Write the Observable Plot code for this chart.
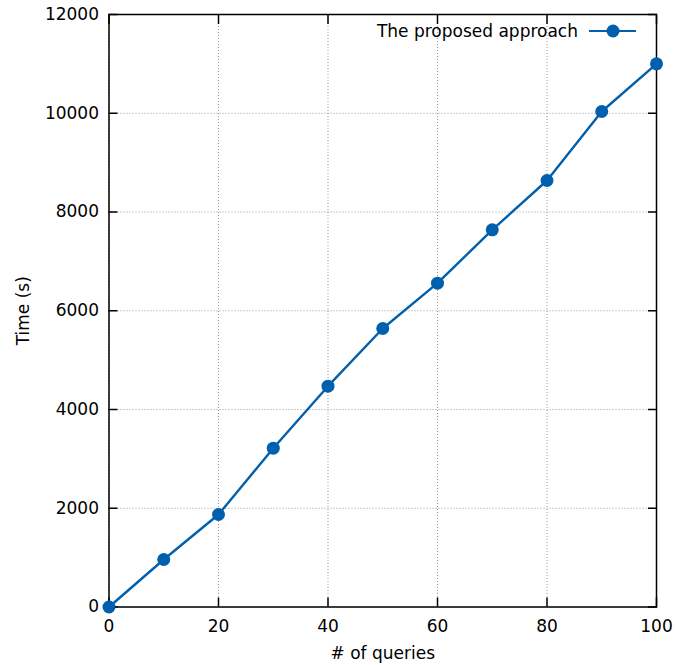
<!DOCTYPE html>
<html>
<head>
<meta charset="utf-8">
<script src="https://cdn.jsdelivr.net/npm/d3@7"></script>
<script src="https://cdn.jsdelivr.net/npm/@observablehq/plot@0.6"></script>
<style>
  body { margin: 0; background: #fff; }
  #chart { position: relative; width: 676px; height: 665px; }
</style>
</head>
<body>
<div id="chart"></div>
<script>
const queries = [0, 10, 20, 30, 40, 50, 60, 70, 80, 90, 100];
const times = [0, 962, 1873, 3216, 4472, 5641, 6558, 7639, 8638, 10035, 11001];
const xTicks = [0, 20, 40, 60, 80, 100];
const yTicks = [0, 2000, 4000, 6000, 8000, 10000, 12000];
const seriesName = "The proposed approach";
const xLabel = "# of queries";
const yLabel = "Time (s)";

const data = queries.map((q, i) => ({q, t: times[i]}));
const color = "#0060ad";
const font = "'DejaVu Sans', sans-serif";
const fs = 17;

const legend = (index, scales, values, dims) => {
  const right = dims.width - dims.marginRight;
  const top = dims.marginTop;
  const g = d3.create("svg:g");
  g.append("text")
    .attr("x", right - 78).attr("y", top + 17)
    .attr("text-anchor", "end").attr("dy", "0.35em")
    .attr("fill", "#000").attr("font-size", fs).attr("font-family", font)
    .text(seriesName);
  g.append("line")
    .attr("x1", right - 67).attr("x2", right - 20)
    .attr("y1", top + 17).attr("y2", top + 17)
    .attr("stroke", color).attr("stroke-width", 2.2);
  g.append("circle")
    .attr("cx", right - 43).attr("cy", top + 17).attr("r", 6.5)
    .attr("fill", color);
  return g.node();
};

const chart = Plot.plot({
  width: 676,
  height: 665,
  marginLeft: 108.5,
  marginRight: 20,
  marginTop: 14,
  marginBottom: 58.5,
  style: {fontFamily: font, fontSize: fs + "px", color: "#000", background: "#fff"},
  x: {domain: [0, 100]},
  y: {domain: [0, 12000]},
  marks: [
    Plot.gridX(xTicks, {stroke: "#999", strokeOpacity: 1, strokeDasharray: "1,2"}),
    Plot.gridY(yTicks, {stroke: "#999", strokeOpacity: 1, strokeDasharray: "1,2"}),
    Plot.axisX(xTicks, {anchor: "bottom", tickSize: 0, tickPadding: 13, fontSize: fs, tickFormat: d3.format("d"),
      label: xLabel, labelAnchor: "center", labelArrow: "none", labelOffset: 52}),
    Plot.axisY(yTicks, {anchor: "left", tickSize: 0, tickPadding: 10, fontSize: fs, tickFormat: d3.format("d"),
      label: yLabel, labelAnchor: "center", labelArrow: "none", labelOffset: 92}),
    Plot.axisX(xTicks, {anchor: "bottom", tickSize: -9, tickFormat: () => "", label: null, strokeWidth: 1.5}),
    Plot.axisX(xTicks, {anchor: "top", tickSize: -9, tickFormat: () => "", label: null, strokeWidth: 1.5}),
    Plot.axisY(yTicks, {anchor: "left", tickSize: -9, tickFormat: () => "", label: null, strokeWidth: 1.5}),
    Plot.axisY(yTicks, {anchor: "right", tickSize: -9, tickFormat: () => "", label: null, strokeWidth: 1.5}),
    Plot.frame({stroke: "#000", strokeWidth: 1.5}),
    Plot.line(data, {x: "q", y: "t", stroke: color, strokeWidth: 2.4}),
    Plot.dot(data, {x: "q", y: "t", fill: color, r: 6.5}),
    legend
  ]
});
document.getElementById("chart").appendChild(chart);
</script>
</body>
</html>
